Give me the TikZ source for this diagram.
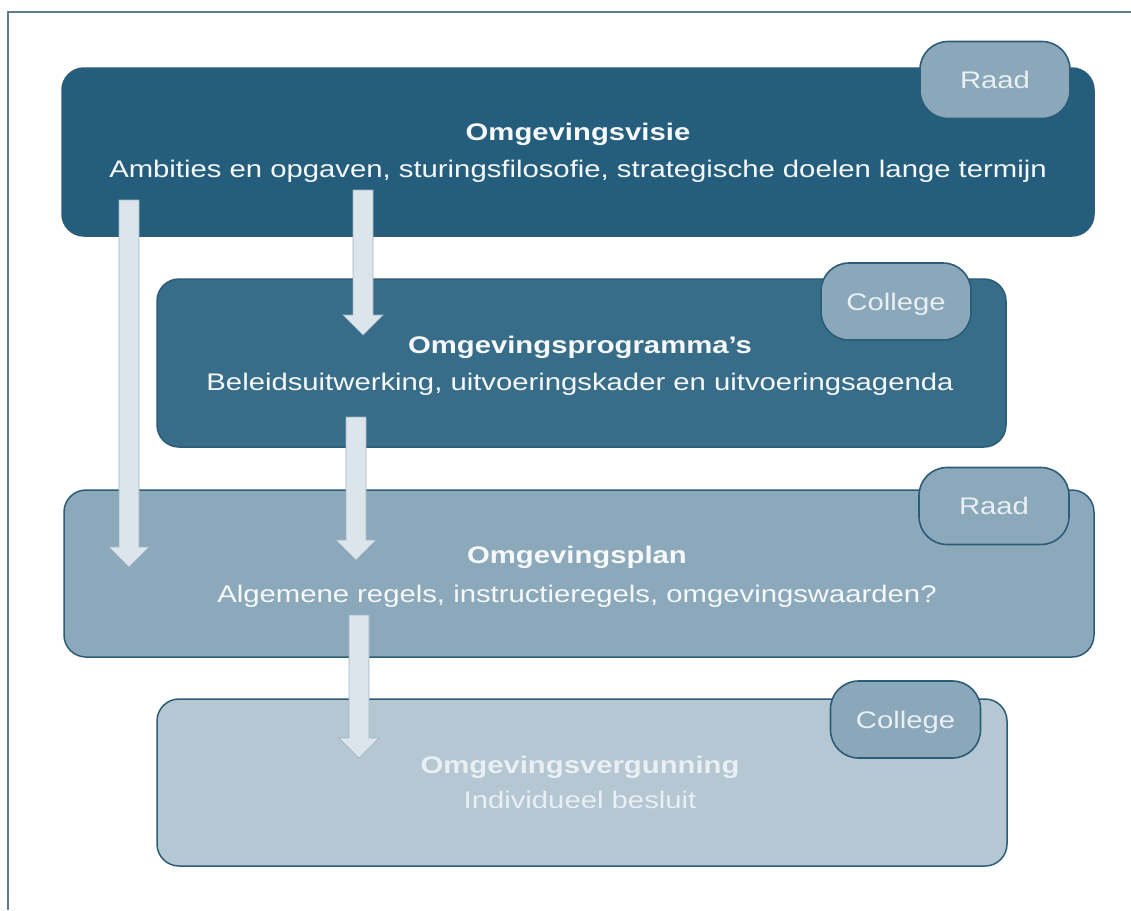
\documentclass[tikz,border=0pt]{standalone}
\usepackage{fontspec}
\setmainfont{Liberation Sans}[FakeStretch=1.22]
\usetikzlibrary{calc}
\definecolor{framec}{HTML}{5E7E90}
\definecolor{cA}{HTML}{245E7C}
\definecolor{cB}{HTML}{376D88}
\definecolor{cC}{HTML}{8BA9BA}
\definecolor{cD}{HTML}{B4C7D3}
\definecolor{edgec}{HTML}{2C5D77}
\definecolor{tagfill}{HTML}{8AA8B9}
\definecolor{arrfill}{HTML}{DCE5EC}
\definecolor{arredge}{HTML}{A3B5C2}
\definecolor{txtw}{HTML}{F6F8FA}
\definecolor{txtl}{HTML}{E9EFF3}
\newcommand\fatarrow[2]{%
  \draw[fatarr] ($(#1)+(-10,0)$) -- ($(#2)+(-10,-20)$) -- ($(#2)+(-20,-20)$) -- (#2)
    -- ($(#2)+(20,-20)$) -- ($(#2)+(10,-20)$) -- ($(#1)+(10,0)$) -- cycle;}
\begin{document}
\begin{tikzpicture}[x=1pt,y=-1pt,
  box/.style={draw=edgec,line width=1.5pt,rounded corners=22pt,inner sep=0pt},
  tagbox/.style={draw=edgec,line width=1.6pt,fill=tagfill,rounded corners=28pt,inner sep=0pt,
    minimum width=150pt,minimum height=77pt,text=txtl,text height=17pt,text depth=0pt,
    font=\fontsize{24}{28}\selectfont},
  ttl/.style={anchor=base,font=\bfseries\fontsize{24}{28}\selectfont,inner sep=0pt},
  sub/.style={anchor=base,font=\fontsize{24}{28}\selectfont,inner sep=0pt},
  fatarr/.style={fill=arrfill,draw=arredge,line width=0.7pt,line join=miter}]
\useasboundingbox (0,0) rectangle (1131,910);
\fill[white] (0,0) rectangle (1131,910);
\draw[framec,line width=2pt] (8,910) -- (8,12) -- (1131,12);

% Omgevingsvisie
\node[box,fill=cA,minimum width=1032pt,minimum height=168pt] (visie) at (578,152) {};
\node[tagbox] (tag1) at (995,80) {Raad};
\node[ttl,text=txtw] (visieT) at (578,140) {Omgevingsvisie};
\node[sub,text=txtw] (visieS) at (578,177) {Ambities en opgaven, sturingsfilosofie, strategische doelen lange termijn};

% Omgevingsprogramma's
\node[box,fill=cB,minimum width=849pt,minimum height=168pt] (prog) at (581.5,363) {};
\node[tagbox] (tag2) at (896,301.5) {College};
\node[ttl,text=txtw] (progT) at (580,353) {Omgevingsprogramma’s};
\node[sub,text=txtw] (progS) at (580,390) {Beleidsuitwerking, uitvoeringskader en uitvoeringsagenda};

% Omgevingsplan
\node[box,fill=cC,minimum width=1030pt,minimum height=167pt] (plan) at (579,573.5) {};
\node[tagbox,fill=cC] (tag3) at (994,506) {Raad};
\node[ttl,text=txtw] (planT) at (577,563) {Omgevingsplan};
\node[sub,text=txtw] (planS) at (577,602) {Algemene regels, instructieregels, omgevingswaarden?};

% Omgevingsvergunning
\node[box,fill=cD,minimum width=850pt,minimum height=167pt] (verg) at (582,782.5) {};
\node[tagbox] (tag4) at (905.5,719.5) {College};
\node[ttl,text=txtl] (vergT) at (580,773) {Omgevingsvergunning};
\node[sub,text=txtl] (vergS) at (580,808) {Individueel besluit};

% arrows
\coordinate (aAs) at (129,200); \coordinate (aAe) at (129,567);
\coordinate (aBs) at (363,190); \coordinate (aBe) at (363,335);
\coordinate (aCs) at (356,417); \coordinate (aCe) at (356,560);
\coordinate (aDs) at (359,615); \coordinate (aDe) at (359,758);
\fatarrow{aAs}{aAe}
\fatarrow{aBs}{aBe}
\fatarrow{aCs}{aCe}
\fatarrow{aDs}{aDe}
\end{tikzpicture}
\end{document}
